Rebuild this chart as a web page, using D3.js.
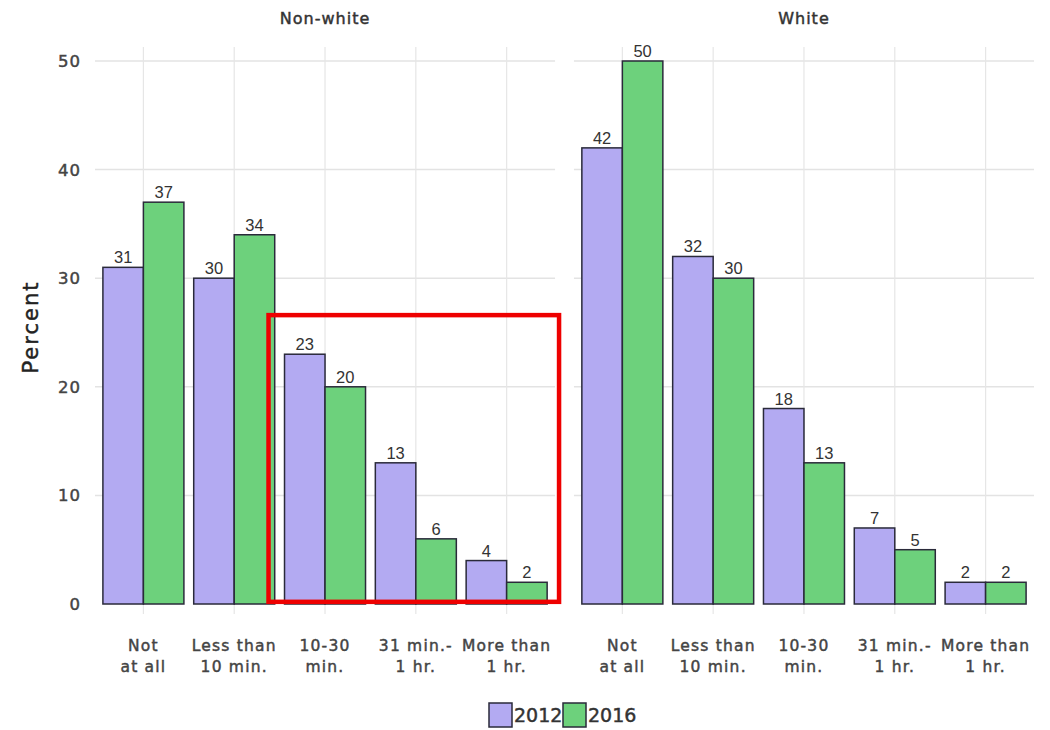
<!DOCTYPE html>
<html>
<head>
<meta charset="utf-8">
<script src="https://cdn.jsdelivr.net/npm/d3@7"></script>
<style>
  html, body { margin: 0; padding: 0; background: #ffffff; }
  svg { display: block; font-family: "DejaVu Sans", sans-serif; }
  .heavy { paint-order: stroke; stroke-width: 0.45px; }
</style>
</head>
<body>
<svg id="chart" width="1050" height="730"></svg>
<script>
// Time spent per day, share of respondents by group and survey year
const panels = ["Non-white", "White"];
const categories = [
  ["Not", "at all"],
  ["Less than", "10 min."],
  ["10-30", "min."],
  ["31 min.-", "1 hr."],
  ["More than", "1 hr."]
];
const years = ["2012", "2016"];
const nonWhite2012 = [31, 30, 23, 13, 4];
const nonWhite2016 = [37, 34, 20, 6, 2];
const white2012 = [42, 32, 18, 7, 2];
const white2016 = [50, 30, 13, 5, 2];
const yTicks = [0, 10, 20, 30, 40, 50];
const colors = ["#b3aaf2", "#6dd17c"];

const series = {
  "Non-white": [nonWhite2012, nonWhite2016],
  "White": [white2012, white2016]
};

const svg = d3.select("#chart");
const catKeys = categories.map(c => c.join(" "));

const y = d3.scaleLinear().domain([0, 50]).range([604, 61]);

const panelX = d3.scaleBand().domain(panels).range([98, 1031]).paddingInner(0.052);

// y tick labels and axis title
svg.append("g").selectAll("text").data(yTicks).join("text")
  .attr("class", "heavy")
  .attr("x", 81).attr("y", d => y(d)).attr("dy", "0.36em")
  .attr("text-anchor", "end").attr("font-size", 16.5).attr("letter-spacing", 1)
  .attr("fill", "#444").attr("stroke", "#444").text(d => d);

svg.append("text")
  .attr("class", "heavy")
  .attr("transform", `translate(38,${y(25.5)}) rotate(-90)`)
  .attr("text-anchor", "middle").attr("font-size", 21).attr("letter-spacing", 2)
  .attr("fill", "#222").attr("stroke", "#222").text("Percent");

panels.forEach(p => {
  const x0 = panelX(p);
  const w = panelX.bandwidth();
  const x = d3.scaleBand().domain(catKeys).range([x0, x0 + w])
    .paddingInner(0.108).paddingOuter(0.054);
  const xs = d3.scaleBand().domain(years).range([0, x.bandwidth()]);

  const g = svg.append("g");

  // gridlines
  g.selectAll("line.h").data(yTicks.slice(1)).join("line")
    .attr("x1", x0 - 3).attr("x2", x0 + w + 3)
    .attr("y1", d => y(d)).attr("y2", d => y(d))
    .attr("stroke", "#e3e3e3").attr("stroke-width", 1.5);
  g.selectAll("line.v").data(catKeys).join("line")
    .attr("x1", d => x(d) + x.bandwidth() / 2).attr("x2", d => x(d) + x.bandwidth() / 2)
    .attr("y1", 47).attr("y2", 614)
    .attr("stroke", "#e6e6e6").attr("stroke-width", 1.2);

  // facet title
  g.append("text")
    .attr("class", "heavy")
    .attr("x", x0 + w / 2).attr("y", 24)
    .attr("text-anchor", "middle").attr("font-size", 16).attr("letter-spacing", 1)
    .attr("fill", "#333").attr("stroke", "#333").text(p);

  // bars
  years.forEach((yr, j) => {
    const vals = series[p][j];
    const bg = g.append("g");
    bg.selectAll("rect").data(vals).join("rect")
      .attr("x", (d, i) => x(catKeys[i]) + xs(yr))
      .attr("y", d => y(d))
      .attr("width", xs.bandwidth())
      .attr("height", d => y(0) - y(d))
      .attr("fill", colors[j])
      .attr("stroke", "#2a2a3a").attr("stroke-width", 1.5);
    bg.selectAll("text").data(vals).join("text")
      .attr("x", (d, i) => x(catKeys[i]) + xs(yr) + xs.bandwidth() / 2)
      .attr("y", d => y(d) - 4)
      .attr("text-anchor", "middle").attr("font-size", 16.5)
      .attr("font-family", "'Liberation Sans', Arial, sans-serif")
      .attr("fill", "#333").text(d => d);
  });

  // category labels
  const cg = g.selectAll("text.cat").data(categories).join("text")
    .attr("class", "cat heavy")
    .attr("x", (d, i) => x(catKeys[i]) + x.bandwidth() / 2)
    .attr("text-anchor", "middle").attr("font-size", 15.5).attr("letter-spacing", 1.2)
    .attr("fill", "#444").attr("stroke", "#444");
  cg.append("tspan").attr("x", (d, i) => x(catKeys[i]) + x.bandwidth() / 2)
    .attr("y", 651).text(d => d[0]);
  cg.append("tspan").attr("x", (d, i) => x(catKeys[i]) + x.bandwidth() / 2)
    .attr("y", 672).text(d => d[1]);

  // highlight box around the three longest-duration groups of the first panel
  if (p === "Non-white") {
    const hx0 = x(catKeys[2]) - 16;
    const hx1 = x0 + w + 7;
    svg.append("rect")
      .attr("x", hx0).attr("y", y(26.6))
      .attr("width", hx1 - hx0).attr("height", y(0.2) - y(26.6))
      .attr("fill", "none").attr("stroke", "#ee0000").attr("stroke-width", 4.5);
  }
});

// legend
const legend = svg.append("g").attr("transform", "translate(489,703)");
const items = legend.selectAll("g").data(years).join("g")
  .attr("transform", (d, i) => `translate(${i * 74},0)`);
items.append("rect").attr("width", 23).attr("height", 24)
  .attr("fill", (d, i) => colors[i]).attr("stroke", "#2a2a3a").attr("stroke-width", 1.5);
items.append("text").attr("class", "heavy").attr("x", 25).attr("y", 12).attr("dy", "0.36em")
  .attr("font-size", 19).attr("fill", "#333").attr("stroke", "#333").text(d => d);
</script>
</body>
</html>
